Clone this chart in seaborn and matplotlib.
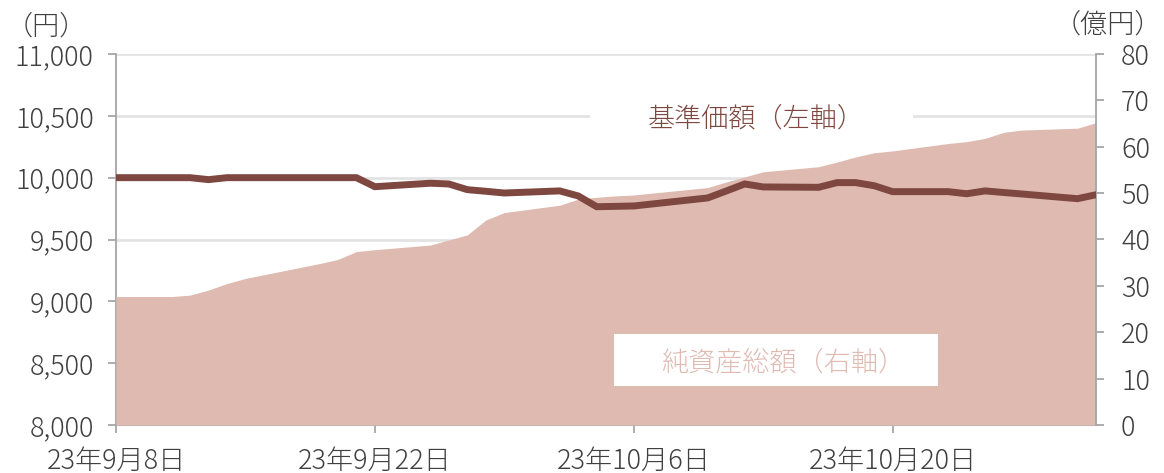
import pandas as pd
import matplotlib
matplotlib.use("Agg")
import matplotlib.pyplot as plt
import matplotlib.patches as mpatches
import seaborn as sns

# Business days shown in the chart
dates = [
    "2023-09-08", "2023-09-11", "2023-09-12", "2023-09-13", "2023-09-14", "2023-09-15",
    "2023-09-19", "2023-09-20", "2023-09-21", "2023-09-22",
    "2023-09-25", "2023-09-26", "2023-09-27", "2023-09-28", "2023-09-29",
    "2023-10-02", "2023-10-03", "2023-10-04", "2023-10-05", "2023-10-06",
    "2023-10-10", "2023-10-11", "2023-10-12", "2023-10-13",
    "2023-10-16", "2023-10-17", "2023-10-18", "2023-10-19", "2023-10-20",
    "2023-10-23", "2023-10-24", "2023-10-25", "2023-10-26", "2023-10-27",
    "2023-10-30", "2023-10-31",
]

# 基準価額 (円, left axis)
nav = [
    10000, 10000, 10000, 9984, 10000, 10000,
    10000, 10000, 10000, 9927,
    9955, 9949, 9903, 9890, 9876,
    9893, 9852, 9765, 9768, 9771,
    9836, 9892, 9949, 9925,
    9922, 9960, 9960, 9935, 9887,
    9887, 9870, 9893, 9880, 9868,
    9830, 9862,
]

# 純資産総額 (億円, right axis)
assets = [
    27.7, 27.7, 28.0, 29.1, 30.5, 31.6,
    34.8, 35.7, 37.4, 37.8,
    38.8, 39.9, 41.0, 44.2, 45.8,
    47.4, 48.7, 49.1, 49.4, 49.6,
    51.2, 52.4, 53.5, 54.6,
    55.7, 56.7, 57.8, 58.7, 59.1,
    60.7, 61.1, 61.8, 63.1, 63.6,
    64.0, 65.2,
]

tick_dates = ["2023-09-08", "2023-09-22", "2023-10-06", "2023-10-20"]
tick_labels = ["23年9月8日", "23年9月22日", "23年10月6日", "23年10月20日"]
left_ticks = [8000, 8500, 9000, 9500, 10000, 10500, 11000]
right_ticks = [0, 10, 20, 30, 40, 50, 60, 70, 80]

df = pd.DataFrame({"date": pd.to_datetime(dates), "nav": nav, "assets": assets})

sns.set_theme(style="white")
plt.rcParams["font.family"] = ["Noto Sans CJK JP", "DejaVu Sans"]
plt.rcParams["font.weight"] = "light"

LINE = "#7E4840"
AREA = "#DFBAB1"
TXT = "#404040"
SPINE = "#A6A6A6"
GRID = "#E3E3E3"
FS = 19.5

fig = plt.figure(figsize=(11.64, 4.73), dpi=100)
rect = [116 / 1164, 1 - 425 / 473, (1096 - 116) / 1164, (425 - 54) / 473]
ax = fig.add_axes(rect)          # left axis + grid
ax2 = ax.twinx()                 # right axis + area
ax3 = ax.twinx()                 # line on top

xmin, xmax = df["date"].iloc[0], df["date"].iloc[-1]

# left axis
ax.set_ylim(8000, 11000)
ax.set_yticks(left_ticks)
ax.set_yticklabels([f"{v:,}" for v in left_ticks])
ax.grid(axis="y", color=GRID, linewidth=2)

# area
ax2.fill_between(df["date"], df["assets"], 0, color=AREA, linewidth=0)
ax2.set_ylim(0, 80)
ax2.set_yticks(right_ticks)

# line
sns.lineplot(data=df, x="date", y="nav", ax=ax3, color=LINE, linewidth=5,
             solid_joinstyle="miter")
ax3.set_ylim(8000, 11000)
ax3.set_yticks([])
for s in ax3.spines.values():
    s.set_visible(False)

ax.set_xlim(xmin, xmax)
ax.set_xticks(pd.to_datetime(tick_dates))
ax.set_xticklabels(tick_labels)

for a in (ax, ax2):
    for s in a.spines.values():
        s.set_visible(False)
ax.spines["left"].set_visible(True)
ax.spines["bottom"].set_visible(True)
ax2.spines["right"].set_visible(True)
for s in ("left", "bottom"):
    ax.spines[s].set_color(SPINE)
    ax.spines[s].set_linewidth(1.3)
ax2.spines["right"].set_color(SPINE)
ax2.spines["right"].set_linewidth(1.3)

for a in (ax, ax2, ax3):
    a.set_xlabel("")
    a.set_ylabel("")

ax.tick_params(axis="y", direction="out", length=6, width=1.3, color=SPINE,
               labelsize=FS, labelcolor=TXT, pad=10, left=True)
ax.tick_params(axis="x", direction="out", length=6, width=1.3, color=SPINE,
               labelsize=FS, labelcolor=TXT, pad=9.5, bottom=True)
ax2.tick_params(axis="y", direction="out", length=6, width=1.3, color=SPINE,
                labelsize=FS, labelcolor=TXT, pad=12, right=True)
ax3.tick_params(axis="x", bottom=False, labelbottom=False)
ax2.tick_params(axis="x", bottom=False, labelbottom=False)

# unit labels
fig.text(6 / 1164, 1 - 26 / 473, "（円）", fontsize=FS, color=TXT, va="center", ha="left")
fig.text(1162 / 1164, 1 - 24 / 473, "（億円）", fontsize=FS, color=TXT, va="center", ha="right")

# series labels with white boxes
box1 = mpatches.Rectangle((590 / 1164, 1 - 145 / 473), 323 / 1164, 58 / 473,
                          transform=fig.transFigure, facecolor="white", edgecolor="none")
fig.add_artist(box1)
fig.text(756 / 1164, 1 - 118 / 473, "基準価額（左軸）", fontsize=FS, color=LINE,
         ha="center", va="center")

box2 = mpatches.Rectangle((614 / 1164, 1 - 386 / 473), 324 / 1164, 52 / 473,
                          transform=fig.transFigure, facecolor="white", edgecolor="none")
fig.add_artist(box2)
fig.text(783 / 1164, 1 - 362 / 473, "純資産総額（右軸）", fontsize=FS, color=AREA,
         ha="center", va="center")

fig.savefig("out.png", dpi=100)
